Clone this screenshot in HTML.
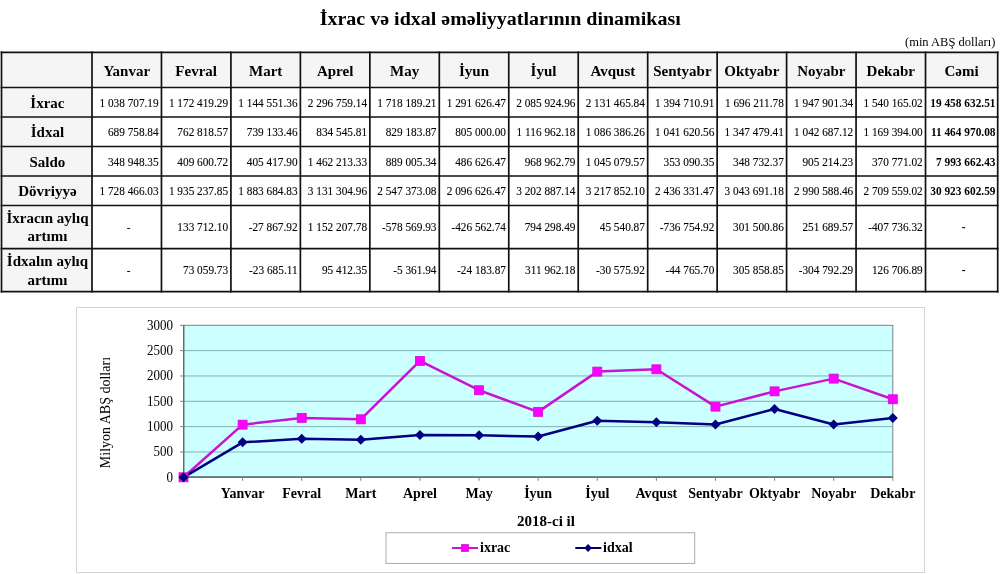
<!DOCTYPE html>
<html><head><meta charset="utf-8"><title>İxrac və idxal əməliyyatlarının dinamikası</title>
<style>
html,body{margin:0;padding:0;background:#fff;}
body{width:1000px;height:574px;position:relative;overflow:hidden;}
svg text{font-family:"Liberation Serif","Times New Roman",serif;fill:#000;}
svg text.b{font-weight:bold;}
svg text.d{stroke:#000;stroke-width:0.1px;}
</style></head><body>
<svg width="1000" height="574" viewBox="0 0 1000 574" style="position:absolute;left:0;top:0">
<text transform="translate(500.20,25.00) scale(1.0530,1)" text-anchor="middle" class="b" font-size="19">İxrac və idxal əməliyyatlarının dinamikası</text>
<text transform="translate(995.30,45.90) scale(0.9620,1)" text-anchor="end" font-size="13">(min ABŞ dolları)</text>
<rect x="1.5" y="52.3" width="996.2" height="35.2" fill="#f5f5f5"/>
<rect x="1.5" y="52.3" width="90.5" height="239.3" fill="#f5f5f5"/>
<line x1="1.50" y1="51.45" x2="1.50" y2="292.45" stroke="#111" stroke-width="1.7"/>
<line x1="92.00" y1="51.45" x2="92.00" y2="292.45" stroke="#111" stroke-width="1.7"/>
<line x1="161.46" y1="51.45" x2="161.46" y2="292.45" stroke="#111" stroke-width="1.7"/>
<line x1="230.92" y1="51.45" x2="230.92" y2="292.45" stroke="#111" stroke-width="1.7"/>
<line x1="300.38" y1="51.45" x2="300.38" y2="292.45" stroke="#111" stroke-width="1.7"/>
<line x1="369.84" y1="51.45" x2="369.84" y2="292.45" stroke="#111" stroke-width="1.7"/>
<line x1="439.30" y1="51.45" x2="439.30" y2="292.45" stroke="#111" stroke-width="1.7"/>
<line x1="508.76" y1="51.45" x2="508.76" y2="292.45" stroke="#111" stroke-width="1.7"/>
<line x1="578.22" y1="51.45" x2="578.22" y2="292.45" stroke="#111" stroke-width="1.7"/>
<line x1="647.68" y1="51.45" x2="647.68" y2="292.45" stroke="#111" stroke-width="1.7"/>
<line x1="717.14" y1="51.45" x2="717.14" y2="292.45" stroke="#111" stroke-width="1.7"/>
<line x1="786.60" y1="51.45" x2="786.60" y2="292.45" stroke="#111" stroke-width="1.7"/>
<line x1="856.06" y1="51.45" x2="856.06" y2="292.45" stroke="#111" stroke-width="1.7"/>
<line x1="925.52" y1="51.45" x2="925.52" y2="292.45" stroke="#111" stroke-width="1.7"/>
<line x1="997.70" y1="51.45" x2="997.70" y2="292.45" stroke="#111" stroke-width="1.7"/>
<line x1="0.65" y1="52.3" x2="998.55" y2="52.3" stroke="#111" stroke-width="1.7"/>
<line x1="0.65" y1="87.5" x2="998.55" y2="87.5" stroke="#111" stroke-width="1.7"/>
<line x1="0.65" y1="117" x2="998.55" y2="117" stroke="#111" stroke-width="1.7"/>
<line x1="0.65" y1="146.5" x2="998.55" y2="146.5" stroke="#111" stroke-width="1.7"/>
<line x1="0.65" y1="176" x2="998.55" y2="176" stroke="#111" stroke-width="1.7"/>
<line x1="0.65" y1="205.5" x2="998.55" y2="205.5" stroke="#111" stroke-width="1.7"/>
<line x1="0.65" y1="248.6" x2="998.55" y2="248.6" stroke="#111" stroke-width="1.7"/>
<line x1="0.65" y1="291.6" x2="998.55" y2="291.6" stroke="#111" stroke-width="1.7"/>
<text x="126.73" y="75.70" text-anchor="middle" class="b" font-size="15">Yanvar</text>
<text x="196.19" y="75.70" text-anchor="middle" class="b" font-size="15">Fevral</text>
<text x="265.65" y="75.70" text-anchor="middle" class="b" font-size="15">Mart</text>
<text x="335.11" y="75.70" text-anchor="middle" class="b" font-size="15">Aprel</text>
<text x="404.57" y="75.70" text-anchor="middle" class="b" font-size="15">May</text>
<text x="474.03" y="75.70" text-anchor="middle" class="b" font-size="15">İyun</text>
<text x="543.49" y="75.70" text-anchor="middle" class="b" font-size="15">İyul</text>
<text x="612.95" y="75.70" text-anchor="middle" class="b" font-size="15">Avqust</text>
<text x="682.41" y="75.70" text-anchor="middle" class="b" font-size="15">Sentyabr</text>
<text x="751.87" y="75.70" text-anchor="middle" class="b" font-size="15">Oktyabr</text>
<text x="821.33" y="75.70" text-anchor="middle" class="b" font-size="15">Noyabr</text>
<text x="890.79" y="75.70" text-anchor="middle" class="b" font-size="15">Dekabr</text>
<text x="961.61" y="75.70" text-anchor="middle" class="b" font-size="15">Cəmi</text>
<text x="47.45" y="107.55" text-anchor="middle" class="b" font-size="15">İxrac</text>
<text transform="translate(158.66,106.85) scale(0.9091,1)" text-anchor="end" class="d" font-size="12.430000000000001">1 038 707.19</text>
<text transform="translate(228.12,106.85) scale(0.9091,1)" text-anchor="end" class="d" font-size="12.430000000000001">1 172 419.29</text>
<text transform="translate(297.58,106.85) scale(0.9091,1)" text-anchor="end" class="d" font-size="12.430000000000001">1 144 551.36</text>
<text transform="translate(367.04,106.85) scale(0.9091,1)" text-anchor="end" class="d" font-size="12.430000000000001">2 296 759.14</text>
<text transform="translate(436.50,106.85) scale(0.9091,1)" text-anchor="end" class="d" font-size="12.430000000000001">1 718 189.21</text>
<text transform="translate(505.96,106.85) scale(0.9091,1)" text-anchor="end" class="d" font-size="12.430000000000001">1 291 626.47</text>
<text transform="translate(575.42,106.85) scale(0.9091,1)" text-anchor="end" class="d" font-size="12.430000000000001">2 085 924.96</text>
<text transform="translate(644.88,106.85) scale(0.9091,1)" text-anchor="end" class="d" font-size="12.430000000000001">2 131 465.84</text>
<text transform="translate(714.34,106.85) scale(0.9091,1)" text-anchor="end" class="d" font-size="12.430000000000001">1 394 710.91</text>
<text transform="translate(783.80,106.85) scale(0.9091,1)" text-anchor="end" class="d" font-size="12.430000000000001">1 696 211.78</text>
<text transform="translate(853.26,106.85) scale(0.9091,1)" text-anchor="end" class="d" font-size="12.430000000000001">1 947 901.34</text>
<text transform="translate(922.72,106.85) scale(0.9091,1)" text-anchor="end" class="d" font-size="12.430000000000001">1 540 165.02</text>
<text transform="translate(995.50,106.85) scale(0.9091,1)" text-anchor="end" class="b" font-size="12.485000000000001">19 458 632.51</text>
<text x="47.45" y="137.05" text-anchor="middle" class="b" font-size="15">İdxal</text>
<text transform="translate(158.66,136.35) scale(0.9091,1)" text-anchor="end" class="d" font-size="12.430000000000001">689 758.84</text>
<text transform="translate(228.12,136.35) scale(0.9091,1)" text-anchor="end" class="d" font-size="12.430000000000001">762 818.57</text>
<text transform="translate(297.58,136.35) scale(0.9091,1)" text-anchor="end" class="d" font-size="12.430000000000001">739 133.46</text>
<text transform="translate(367.04,136.35) scale(0.9091,1)" text-anchor="end" class="d" font-size="12.430000000000001">834 545.81</text>
<text transform="translate(436.50,136.35) scale(0.9091,1)" text-anchor="end" class="d" font-size="12.430000000000001">829 183.87</text>
<text transform="translate(505.96,136.35) scale(0.9091,1)" text-anchor="end" class="d" font-size="12.430000000000001">805 000.00</text>
<text transform="translate(575.42,136.35) scale(0.9091,1)" text-anchor="end" class="d" font-size="12.430000000000001">1 116 962.18</text>
<text transform="translate(644.88,136.35) scale(0.9091,1)" text-anchor="end" class="d" font-size="12.430000000000001">1 086 386.26</text>
<text transform="translate(714.34,136.35) scale(0.9091,1)" text-anchor="end" class="d" font-size="12.430000000000001">1 041 620.56</text>
<text transform="translate(783.80,136.35) scale(0.9091,1)" text-anchor="end" class="d" font-size="12.430000000000001">1 347 479.41</text>
<text transform="translate(853.26,136.35) scale(0.9091,1)" text-anchor="end" class="d" font-size="12.430000000000001">1 042 687.12</text>
<text transform="translate(922.72,136.35) scale(0.9091,1)" text-anchor="end" class="d" font-size="12.430000000000001">1 169 394.00</text>
<text transform="translate(995.50,136.35) scale(0.9091,1)" text-anchor="end" class="b" font-size="12.485000000000001">11 464 970.08</text>
<text x="47.45" y="166.55" text-anchor="middle" class="b" font-size="15">Saldo</text>
<text transform="translate(158.66,165.85) scale(0.9091,1)" text-anchor="end" class="d" font-size="12.430000000000001">348 948.35</text>
<text transform="translate(228.12,165.85) scale(0.9091,1)" text-anchor="end" class="d" font-size="12.430000000000001">409 600.72</text>
<text transform="translate(297.58,165.85) scale(0.9091,1)" text-anchor="end" class="d" font-size="12.430000000000001">405 417.90</text>
<text transform="translate(367.04,165.85) scale(0.9091,1)" text-anchor="end" class="d" font-size="12.430000000000001">1 462 213.33</text>
<text transform="translate(436.50,165.85) scale(0.9091,1)" text-anchor="end" class="d" font-size="12.430000000000001">889 005.34</text>
<text transform="translate(505.96,165.85) scale(0.9091,1)" text-anchor="end" class="d" font-size="12.430000000000001">486 626.47</text>
<text transform="translate(575.42,165.85) scale(0.9091,1)" text-anchor="end" class="d" font-size="12.430000000000001">968 962.79</text>
<text transform="translate(644.88,165.85) scale(0.9091,1)" text-anchor="end" class="d" font-size="12.430000000000001">1 045 079.57</text>
<text transform="translate(714.34,165.85) scale(0.9091,1)" text-anchor="end" class="d" font-size="12.430000000000001">353 090.35</text>
<text transform="translate(783.80,165.85) scale(0.9091,1)" text-anchor="end" class="d" font-size="12.430000000000001">348 732.37</text>
<text transform="translate(853.26,165.85) scale(0.9091,1)" text-anchor="end" class="d" font-size="12.430000000000001">905 214.23</text>
<text transform="translate(922.72,165.85) scale(0.9091,1)" text-anchor="end" class="d" font-size="12.430000000000001">370 771.02</text>
<text transform="translate(995.50,165.85) scale(0.9091,1)" text-anchor="end" class="b" font-size="12.485000000000001">7 993 662.43</text>
<text x="47.45" y="196.05" text-anchor="middle" class="b" font-size="15">Dövriyyə</text>
<text transform="translate(158.66,195.35) scale(0.9091,1)" text-anchor="end" class="d" font-size="12.430000000000001">1 728 466.03</text>
<text transform="translate(228.12,195.35) scale(0.9091,1)" text-anchor="end" class="d" font-size="12.430000000000001">1 935 237.85</text>
<text transform="translate(297.58,195.35) scale(0.9091,1)" text-anchor="end" class="d" font-size="12.430000000000001">1 883 684.83</text>
<text transform="translate(367.04,195.35) scale(0.9091,1)" text-anchor="end" class="d" font-size="12.430000000000001">3 131 304.96</text>
<text transform="translate(436.50,195.35) scale(0.9091,1)" text-anchor="end" class="d" font-size="12.430000000000001">2 547 373.08</text>
<text transform="translate(505.96,195.35) scale(0.9091,1)" text-anchor="end" class="d" font-size="12.430000000000001">2 096 626.47</text>
<text transform="translate(575.42,195.35) scale(0.9091,1)" text-anchor="end" class="d" font-size="12.430000000000001">3 202 887.14</text>
<text transform="translate(644.88,195.35) scale(0.9091,1)" text-anchor="end" class="d" font-size="12.430000000000001">3 217 852.10</text>
<text transform="translate(714.34,195.35) scale(0.9091,1)" text-anchor="end" class="d" font-size="12.430000000000001">2 436 331.47</text>
<text transform="translate(783.80,195.35) scale(0.9091,1)" text-anchor="end" class="d" font-size="12.430000000000001">3 043 691.18</text>
<text transform="translate(853.26,195.35) scale(0.9091,1)" text-anchor="end" class="d" font-size="12.430000000000001">2 990 588.46</text>
<text transform="translate(922.72,195.35) scale(0.9091,1)" text-anchor="end" class="d" font-size="12.430000000000001">2 709 559.02</text>
<text transform="translate(995.50,195.35) scale(0.9091,1)" text-anchor="end" class="b" font-size="12.485000000000001">30 923 602.59</text>
<text x="47.45" y="222.85" text-anchor="middle" class="b" font-size="15">İxracın aylıq</text>
<text x="47.45" y="241.45" text-anchor="middle" class="b" font-size="15">artımı</text>
<text transform="translate(128.73,231.05) scale(0.9091,1)" text-anchor="middle" font-size="12.430000000000001">-</text>
<text transform="translate(228.12,231.05) scale(0.9091,1)" text-anchor="end" class="d" font-size="12.430000000000001">133 712.10</text>
<text transform="translate(297.58,231.05) scale(0.9091,1)" text-anchor="end" class="d" font-size="12.430000000000001">-27 867.92</text>
<text transform="translate(367.04,231.05) scale(0.9091,1)" text-anchor="end" class="d" font-size="12.430000000000001">1 152 207.78</text>
<text transform="translate(436.50,231.05) scale(0.9091,1)" text-anchor="end" class="d" font-size="12.430000000000001">-578 569.93</text>
<text transform="translate(505.96,231.05) scale(0.9091,1)" text-anchor="end" class="d" font-size="12.430000000000001">-426 562.74</text>
<text transform="translate(575.42,231.05) scale(0.9091,1)" text-anchor="end" class="d" font-size="12.430000000000001">794 298.49</text>
<text transform="translate(644.88,231.05) scale(0.9091,1)" text-anchor="end" class="d" font-size="12.430000000000001">45 540.87</text>
<text transform="translate(714.34,231.05) scale(0.9091,1)" text-anchor="end" class="d" font-size="12.430000000000001">-736 754.92</text>
<text transform="translate(783.80,231.05) scale(0.9091,1)" text-anchor="end" class="d" font-size="12.430000000000001">301 500.86</text>
<text transform="translate(853.26,231.05) scale(0.9091,1)" text-anchor="end" class="d" font-size="12.430000000000001">251 689.57</text>
<text transform="translate(922.72,231.05) scale(0.9091,1)" text-anchor="end" class="d" font-size="12.430000000000001">-407 736.32</text>
<text transform="translate(963.61,231.05) scale(0.9091,1)" text-anchor="middle" class="b" font-size="12.485000000000001">-</text>
<text x="47.45" y="265.90" text-anchor="middle" class="b" font-size="15">İdxalın aylıq</text>
<text x="47.45" y="284.50" text-anchor="middle" class="b" font-size="15">artımı</text>
<text transform="translate(128.73,274.10) scale(0.9091,1)" text-anchor="middle" font-size="12.430000000000001">-</text>
<text transform="translate(228.12,274.10) scale(0.9091,1)" text-anchor="end" class="d" font-size="12.430000000000001">73 059.73</text>
<text transform="translate(297.58,274.10) scale(0.9091,1)" text-anchor="end" class="d" font-size="12.430000000000001">-23 685.11</text>
<text transform="translate(367.04,274.10) scale(0.9091,1)" text-anchor="end" class="d" font-size="12.430000000000001">95 412.35</text>
<text transform="translate(436.50,274.10) scale(0.9091,1)" text-anchor="end" class="d" font-size="12.430000000000001">-5 361.94</text>
<text transform="translate(505.96,274.10) scale(0.9091,1)" text-anchor="end" class="d" font-size="12.430000000000001">-24 183.87</text>
<text transform="translate(575.42,274.10) scale(0.9091,1)" text-anchor="end" class="d" font-size="12.430000000000001">311 962.18</text>
<text transform="translate(644.88,274.10) scale(0.9091,1)" text-anchor="end" class="d" font-size="12.430000000000001">-30 575.92</text>
<text transform="translate(714.34,274.10) scale(0.9091,1)" text-anchor="end" class="d" font-size="12.430000000000001">-44 765.70</text>
<text transform="translate(783.80,274.10) scale(0.9091,1)" text-anchor="end" class="d" font-size="12.430000000000001">305 858.85</text>
<text transform="translate(853.26,274.10) scale(0.9091,1)" text-anchor="end" class="d" font-size="12.430000000000001">-304 792.29</text>
<text transform="translate(922.72,274.10) scale(0.9091,1)" text-anchor="end" class="d" font-size="12.430000000000001">126 706.89</text>
<text transform="translate(963.61,274.10) scale(0.9091,1)" text-anchor="middle" class="b" font-size="12.485000000000001">-</text>
<rect x="76.5" y="307.5" width="848" height="265" fill="#fff" stroke="#d4d4d4" stroke-width="1"/>
<rect x="183.5" y="325.3" width="709.3" height="152.0" fill="#ccffff" stroke="#808080" stroke-width="1"/>
<line x1="183.5" y1="451.97" x2="892.8" y2="451.97" stroke="#84b0b0" stroke-width="1"/>
<line x1="183.5" y1="426.63" x2="892.8" y2="426.63" stroke="#84b0b0" stroke-width="1"/>
<line x1="183.5" y1="401.30" x2="892.8" y2="401.30" stroke="#84b0b0" stroke-width="1"/>
<line x1="183.5" y1="375.97" x2="892.8" y2="375.97" stroke="#84b0b0" stroke-width="1"/>
<line x1="183.5" y1="350.63" x2="892.8" y2="350.63" stroke="#84b0b0" stroke-width="1"/>
<line x1="183.8" y1="325.3" x2="183.8" y2="477.3" stroke="#566c6c" stroke-width="1.3"/>
<line x1="183.5" y1="477.0" x2="892.8" y2="477.0" stroke="#566c6c" stroke-width="1.3"/>
<line x1="180.0" y1="477.30" x2="183.5" y2="477.30" stroke="#808080" stroke-width="1"/>
<text transform="translate(173.00,481.80) scale(0.9259,1)" text-anchor="end" font-size="14.040000000000001">0</text>
<line x1="180.0" y1="451.97" x2="183.5" y2="451.97" stroke="#808080" stroke-width="1"/>
<text transform="translate(173.00,456.47) scale(0.9259,1)" text-anchor="end" font-size="14.040000000000001">500</text>
<line x1="180.0" y1="426.63" x2="183.5" y2="426.63" stroke="#808080" stroke-width="1"/>
<text transform="translate(173.00,431.13) scale(0.9259,1)" text-anchor="end" font-size="14.040000000000001">1000</text>
<line x1="180.0" y1="401.30" x2="183.5" y2="401.30" stroke="#808080" stroke-width="1"/>
<text transform="translate(173.00,405.80) scale(0.9259,1)" text-anchor="end" font-size="14.040000000000001">1500</text>
<line x1="180.0" y1="375.97" x2="183.5" y2="375.97" stroke="#808080" stroke-width="1"/>
<text transform="translate(173.00,380.47) scale(0.9259,1)" text-anchor="end" font-size="14.040000000000001">2000</text>
<line x1="180.0" y1="350.63" x2="183.5" y2="350.63" stroke="#808080" stroke-width="1"/>
<text transform="translate(173.00,355.13) scale(0.9259,1)" text-anchor="end" font-size="14.040000000000001">2500</text>
<line x1="180.0" y1="325.30" x2="183.5" y2="325.30" stroke="#808080" stroke-width="1"/>
<text transform="translate(173.00,329.80) scale(0.9259,1)" text-anchor="end" font-size="14.040000000000001">3000</text>
<line x1="183.50" y1="477.3" x2="183.50" y2="480.8" stroke="#808080" stroke-width="1"/>
<line x1="242.61" y1="477.3" x2="242.61" y2="480.8" stroke="#808080" stroke-width="1"/>
<line x1="301.72" y1="477.3" x2="301.72" y2="480.8" stroke="#808080" stroke-width="1"/>
<line x1="360.82" y1="477.3" x2="360.82" y2="480.8" stroke="#808080" stroke-width="1"/>
<line x1="419.93" y1="477.3" x2="419.93" y2="480.8" stroke="#808080" stroke-width="1"/>
<line x1="479.04" y1="477.3" x2="479.04" y2="480.8" stroke="#808080" stroke-width="1"/>
<line x1="538.15" y1="477.3" x2="538.15" y2="480.8" stroke="#808080" stroke-width="1"/>
<line x1="597.26" y1="477.3" x2="597.26" y2="480.8" stroke="#808080" stroke-width="1"/>
<line x1="656.37" y1="477.3" x2="656.37" y2="480.8" stroke="#808080" stroke-width="1"/>
<line x1="715.47" y1="477.3" x2="715.47" y2="480.8" stroke="#808080" stroke-width="1"/>
<line x1="774.58" y1="477.3" x2="774.58" y2="480.8" stroke="#808080" stroke-width="1"/>
<line x1="833.69" y1="477.3" x2="833.69" y2="480.8" stroke="#808080" stroke-width="1"/>
<line x1="892.80" y1="477.3" x2="892.80" y2="480.8" stroke="#808080" stroke-width="1"/>
<text x="242.61" y="498.3" text-anchor="middle" class="b" font-size="14">Yanvar</text>
<text x="301.72" y="498.3" text-anchor="middle" class="b" font-size="14">Fevral</text>
<text x="360.82" y="498.3" text-anchor="middle" class="b" font-size="14">Mart</text>
<text x="419.93" y="498.3" text-anchor="middle" class="b" font-size="14">Aprel</text>
<text x="479.04" y="498.3" text-anchor="middle" class="b" font-size="14">May</text>
<text x="538.15" y="498.3" text-anchor="middle" class="b" font-size="14">İyun</text>
<text x="597.26" y="498.3" text-anchor="middle" class="b" font-size="14">İyul</text>
<text x="656.37" y="498.3" text-anchor="middle" class="b" font-size="14">Avqust</text>
<text x="715.47" y="498.3" text-anchor="middle" class="b" font-size="14">Sentyabr</text>
<text x="774.58" y="498.3" text-anchor="middle" class="b" font-size="14">Oktyabr</text>
<text x="833.69" y="498.3" text-anchor="middle" class="b" font-size="14">Noyabr</text>
<text x="892.80" y="498.3" text-anchor="middle" class="b" font-size="14">Dekabr</text>
<text x="546" y="525.6" text-anchor="middle" class="b" font-size="15">2018-ci il</text>
<text transform="translate(109.7,412.6) rotate(-90)" text-anchor="middle" font-size="14">Milyon ABŞ dolları</text>
<polyline points="183.50,477.30 242.61,424.67 301.72,417.90 360.82,419.31 419.93,360.93 479.04,390.24 538.15,411.86 597.26,371.61 656.37,369.30 715.47,406.64 774.58,391.36 833.69,378.61 892.80,399.26" fill="none" stroke="#c814d0" stroke-width="2.5" stroke-linejoin="round"/>
<polyline points="183.50,477.30 242.61,442.35 301.72,438.65 360.82,439.85 419.93,435.02 479.04,435.29 538.15,436.51 597.26,420.71 656.37,422.26 715.47,424.53 774.58,409.03 833.69,424.47 892.80,418.05" fill="none" stroke="#000080" stroke-width="2.5" stroke-linejoin="round"/>
<rect x="179.00" y="472.80" width="9.0" height="9.0" fill="#ff00ff" stroke="#d010d8" stroke-width="0.8"/>
<rect x="238.11" y="420.17" width="9.0" height="9.0" fill="#ff00ff" stroke="#d010d8" stroke-width="0.8"/>
<rect x="297.22" y="413.40" width="9.0" height="9.0" fill="#ff00ff" stroke="#d010d8" stroke-width="0.8"/>
<rect x="356.32" y="414.81" width="9.0" height="9.0" fill="#ff00ff" stroke="#d010d8" stroke-width="0.8"/>
<rect x="415.43" y="356.43" width="9.0" height="9.0" fill="#ff00ff" stroke="#d010d8" stroke-width="0.8"/>
<rect x="474.54" y="385.74" width="9.0" height="9.0" fill="#ff00ff" stroke="#d010d8" stroke-width="0.8"/>
<rect x="533.65" y="407.36" width="9.0" height="9.0" fill="#ff00ff" stroke="#d010d8" stroke-width="0.8"/>
<rect x="592.76" y="367.11" width="9.0" height="9.0" fill="#ff00ff" stroke="#d010d8" stroke-width="0.8"/>
<rect x="651.87" y="364.80" width="9.0" height="9.0" fill="#ff00ff" stroke="#d010d8" stroke-width="0.8"/>
<rect x="710.97" y="402.14" width="9.0" height="9.0" fill="#ff00ff" stroke="#d010d8" stroke-width="0.8"/>
<rect x="770.08" y="386.86" width="9.0" height="9.0" fill="#ff00ff" stroke="#d010d8" stroke-width="0.8"/>
<rect x="829.19" y="374.11" width="9.0" height="9.0" fill="#ff00ff" stroke="#d010d8" stroke-width="0.8"/>
<rect x="888.30" y="394.76" width="9.0" height="9.0" fill="#ff00ff" stroke="#d010d8" stroke-width="0.8"/>
<polygon points="183.50,472.30 188.50,477.30 183.50,482.30 178.50,477.30" fill="#000080"/>
<polygon points="242.61,437.35 247.61,442.35 242.61,447.35 237.61,442.35" fill="#000080"/>
<polygon points="301.72,433.65 306.72,438.65 301.72,443.65 296.72,438.65" fill="#000080"/>
<polygon points="360.82,434.85 365.82,439.85 360.82,444.85 355.82,439.85" fill="#000080"/>
<polygon points="419.93,430.02 424.93,435.02 419.93,440.02 414.93,435.02" fill="#000080"/>
<polygon points="479.04,430.29 484.04,435.29 479.04,440.29 474.04,435.29" fill="#000080"/>
<polygon points="538.15,431.51 543.15,436.51 538.15,441.51 533.15,436.51" fill="#000080"/>
<polygon points="597.26,415.71 602.26,420.71 597.26,425.71 592.26,420.71" fill="#000080"/>
<polygon points="656.37,417.26 661.37,422.26 656.37,427.26 651.37,422.26" fill="#000080"/>
<polygon points="715.47,419.53 720.47,424.53 715.47,429.53 710.47,424.53" fill="#000080"/>
<polygon points="774.58,404.03 779.58,409.03 774.58,414.03 769.58,409.03" fill="#000080"/>
<polygon points="833.69,419.47 838.69,424.47 833.69,429.47 828.69,424.47" fill="#000080"/>
<polygon points="892.80,413.05 897.80,418.05 892.80,423.05 887.80,418.05" fill="#000080"/>
<rect x="386" y="532.7" width="308.7" height="30.7" fill="#fff" stroke="#ababab" stroke-width="1"/>
<line x1="452" y1="548" x2="478" y2="548" stroke="#c814d0" stroke-width="2"/>
<rect x="461.3" y="544.3" width="7.4" height="7.4" fill="#ff00ff" stroke="#d010d8" stroke-width="0.6"/>
<text x="480" y="552.2" class="b" font-size="14">ixrac</text>
<line x1="575.3" y1="548" x2="601.4" y2="548" stroke="#000060" stroke-width="2"/>
<polygon points="588.1,544 592,548 588.1,552 584.2,548" fill="#000080"/>
<text x="603" y="552.2" class="b" font-size="14">idxal</text>
</svg>
</body></html>
